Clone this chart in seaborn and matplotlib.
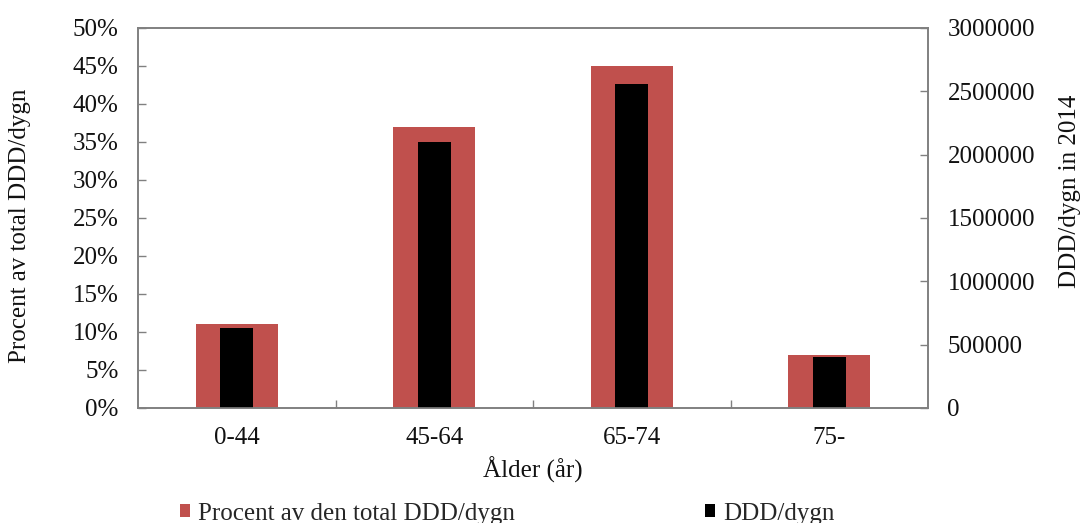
import matplotlib
matplotlib.use("Agg")
import matplotlib.pyplot as plt
from matplotlib.patches import Patch
from matplotlib.ticker import FixedLocator, PercentFormatter
import pandas as pd
import seaborn as sns

# Age groups and their share / volume of DDD per day
age_groups = ["0-44", "45-64", "65-74", "75-"]
percent_of_total = [11, 37, 45, 7]
ddd_per_day = [630000, 2100000, 2555000, 400000]

red = "#C0504D"
spine_grey = "#808080"
fs = 18

sns.set_theme(style="white")
plt.rcParams["font.family"] = ["Liberation Serif", "DejaVu Serif"]
plt.rcParams["font.size"] = fs

df = pd.DataFrame({"age": age_groups, "pct": percent_of_total, "ddd": ddd_per_day})

fig = plt.figure(figsize=(10.81, 5.23), dpi=100)
ax = fig.add_axes([0.1277, 0.2199, 0.7308, 0.7266])
ax2 = ax.twinx()

sns.barplot(data=df, x="age", y="pct", color=red, width=0.415, ax=ax,
            saturation=1, linewidth=0)
sns.barplot(data=df, x="age", y="ddd", color="black", width=0.167, ax=ax2,
            saturation=1, linewidth=0)

ax.set_xlim(-0.5, 3.5)
ax.set_ylim(0, 50)
ax.set_yticks(range(0, 51, 5))
ax.yaxis.set_major_formatter(PercentFormatter(decimals=0))
ax2.set_ylim(0, 3000000)
ax2.set_yticks(range(0, 3000001, 500000))
ax2.set_yticklabels([str(v) for v in range(0, 3000001, 500000)])

# Category labels without marks; marks on the boundaries between groups
ax.tick_params(axis="x", which="major", length=0, pad=14, labelsize=fs,
               labelcolor="#111111")
ax.xaxis.set_minor_locator(FixedLocator([0.5, 1.5, 2.5]))
ax.tick_params(axis="x", which="minor", direction="in", length=6,
               color=spine_grey, width=1, bottom=True)
ax.tick_params(axis="y", direction="in", length=6, color=spine_grey,
               width=1, left=True, labelsize=fs, pad=14, labelcolor="#111111")
ax2.tick_params(axis="y", direction="in", length=6, color=spine_grey,
                width=1, right=True, labelsize=fs, pad=14, labelcolor="#111111")

for a in (ax, ax2):
    for s in a.spines.values():
        s.set_color(spine_grey)
        s.set_linewidth(1.2)

ax.set_xlabel("Ålder (år)", fontsize=fs, labelpad=5, color="#111111")
ax.set_ylabel("Procent av total DDD/dygn", fontsize=fs, labelpad=30,
              color="#111111")
ax.yaxis.label.set_y(0.48)
ax2.set_ylabel("DDD/dygn in 2014", fontsize=fs, labelpad=17, color="#111111")
ax2.yaxis.label.set_y(0.57)

handles = [Patch(facecolor=red, edgecolor="none"),
           Patch(facecolor="black", edgecolor="none")]
fig.legend(handles, ["Procent av den total DDD/dygn", "DDD/dygn"],
           loc="lower center", bbox_to_anchor=(0.469, -0.046), ncol=2,
           frameon=False, fontsize=fs, handlelength=0.42, handleheight=0.42,
           handletextpad=0.3, columnspacing=7.6)

fig.savefig("out.png", dpi=100)
